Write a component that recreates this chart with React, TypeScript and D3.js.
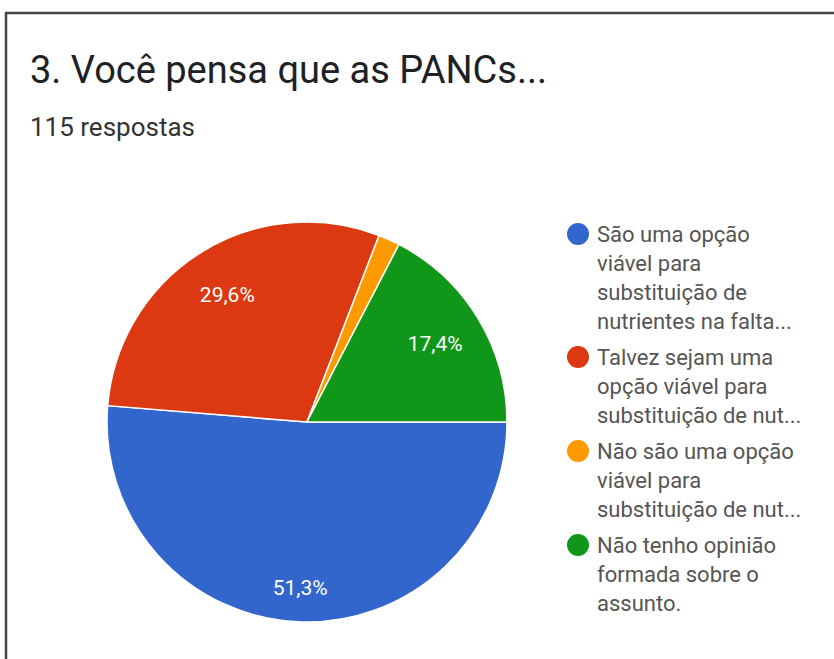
import React, { useEffect, useRef } from 'react';
import * as d3 from 'd3';

// answers to question 3 (115 responses)
const answerLabels = [
    ['São uma opção', 'viável para', 'substituição de', 'nutrientes na falta...'],
    ['Talvez sejam uma', 'opção viável para', 'substituição de nut...'],
    ['Não são uma opção', 'viável para', 'substituição de nut...'],
    ['Não tenho opinião', 'formada sobre o', 'assunto.'],
];
const answerCounts = [59, 34, 2, 20];
const answerColors = ['#3366cc', '#dc3912', '#ff9900', '#109618'];

const title = '3. Você pensa que as PANCs...';
const subtitle = '115 respostas';

const W = 834;
const H = 659;

const PieChart = () => {
    const svgRef = useRef<SVGSVGElement | null>(null);

    useEffect(() => {
        if (!svgRef.current) return;
        const svg = d3.select(svgRef.current);
        svg.selectAll('*').remove();

        // card border (left and top edges only visible)
        svg.append('path')
            .attr('d', `M6,${H} L6,13 L${W},13`)
            .attr('fill', 'none')
            .attr('stroke', '#444')
            .attr('stroke-width', 2.5);

        svg.append('text')
            .attr('x', 30)
            .attr('y', 83)
            .attr('font-family', 'Roboto, sans-serif')
            .attr('font-size', 38)
            .attr('fill', '#202124')
            .text(title);

        svg.append('text')
            .attr('x', 30)
            .attr('y', 136)
            .attr('font-family', 'Roboto, sans-serif')
            .attr('font-size', 26)
            .attr('fill', '#333')
            .text(subtitle);

        const cx = 307;
        const cy = 422;
        const radius = 200;
        const total = d3.sum(answerCounts);

        const pie = d3.pie<number>()
            .sort(null)
            .startAngle(Math.PI / 2)
            .endAngle(Math.PI / 2 + 2 * Math.PI);

        const arc = d3.arc<d3.PieArcDatum<number>>()
            .innerRadius(0)
            .outerRadius(radius);

        const arcs = pie(answerCounts);
        const g = svg.append('g').attr('transform', `translate(${cx},${cy})`);

        g.selectAll('path.slice')
            .data(arcs)
            .enter()
            .append('path')
            .attr('class', 'slice')
            .attr('d', arc)
            .attr('fill', (d, i) => answerColors[i])
            .attr('stroke', '#fff')
            .attr('stroke-width', 1.5);

        const fmt = d3.format('.1f');
        g.selectAll('text.pct')
            .data(arcs.filter((d) => d.value / total >= 0.05))
            .enter()
            .append('text')
            .attr('class', 'pct')
            .attr('transform', (d) => {
                const mid = (d.startAngle + d.endAngle) / 2;
                const rl = radius * (d.endAngle - d.startAngle > Math.PI ? 0.83 : 0.75);
                return `translate(${rl * Math.sin(mid)},${-rl * Math.cos(mid)})`;
            })
            .attr('text-anchor', 'middle')
            .attr('dy', '0.35em')
            .attr('font-family', 'Roboto, sans-serif')
            .attr('font-size', 21)
            .attr('fill', '#fff')
            .text((d) => fmt((d.value / total) * 100).replace('.', ',') + '%');

        // legend
        const lineH = 29;
        const groupGap = 7;
        let y = 234;
        const legend = svg.append('g');
        answerLabels.forEach((lines, i) => {
            legend.append('circle')
                .attr('cx', 578)
                .attr('cy', y)
                .attr('r', 11)
                .attr('fill', answerColors[i]);
            lines.forEach((line, j) => {
                legend.append('text')
                    .attr('x', 597)
                    .attr('y', y + j * lineH)
                    .attr('dy', '0.35em')
                    .attr('font-family', 'Roboto, sans-serif')
                    .attr('font-size', 22)
                    .attr('fill', '#555')
                    .text(line);
            });
            y += lines.length * lineH + groupGap;
        });
    }, []);

    return (
        <svg
            ref={svgRef}
            width={W}
            height={H}
            style={{ position: 'absolute', left: 0, top: 0, background: '#fff' }}
        ></svg>
    );
};

export default function App() {
    return <PieChart />;
}
